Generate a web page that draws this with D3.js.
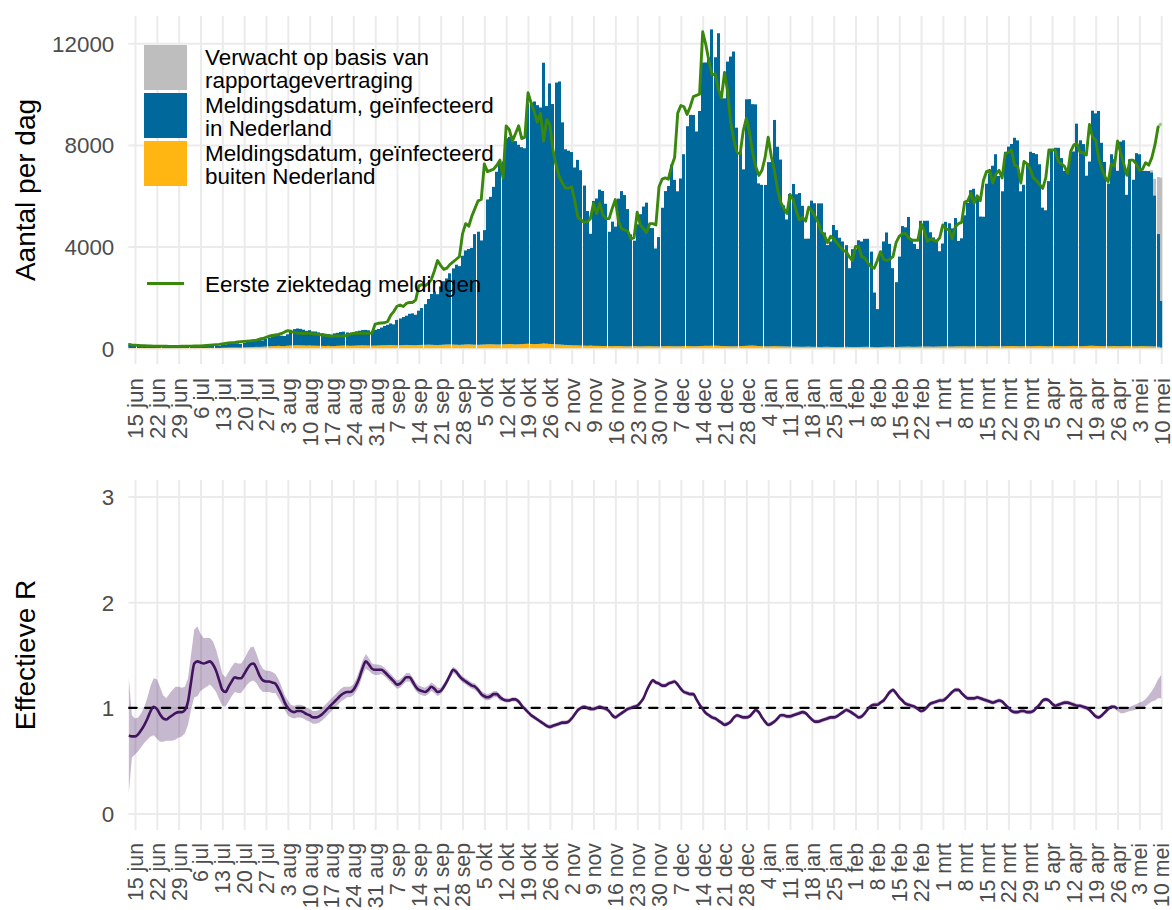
<!DOCTYPE html>
<html><head><meta charset="utf-8">
<script src="https://cdn.jsdelivr.net/npm/d3@7"></script>
<style>
body{margin:0;background:#fff}
svg{display:block}
text{font-family:"Liberation Sans",Arial,Helvetica,sans-serif}
</style>
</head><body>
<svg id="c" width="1172" height="910"></svg>
<script>
// ---------------- DATA ----------------
const monthsNL = ["jan","feb","mrt","apr","mei","jun","jul","aug","sep","okt","nov","dec"];
const firstDay = "2020-06-13";           // first day of all daily series
const firstTick = "2020-06-15", lastTick = "2021-05-10";  // weekly (Monday) ticks
const yTopTicks = [0, 4000, 8000, 12000];
const yBotTicks = [0, 1, 2, 3];

// Meldingsdatum, geinfecteerd in Nederland
const inNL = [
130,110,
120,140,120,110,120,100,90,
80,90,80,80,70,60,50,
50,60,60,70,60,60,50,
60,70,80,90,100,90,80,
110,130,150,160,170,170,150,
180,220,240,260,280,270,250,
300,340,380,400,420,410,400,
450,620,640,660,650,620,580,
600,560,560,530,500,480,460,
450,500,510,540,550,520,500,
530,560,580,600,610,600,580,
620,650,700,760,800,850,820,
1000,1050,1100,1150,1230,1250,1200,
1350,1450,1600,1800,2000,2100,2000,
2300,2500,2600,2800,3000,3150,3100,
3500,3700,3750,3800,4350,4450,4100,
4500,5700,5800,6200,6800,7100,7200,
8100,8150,8200,8000,7850,7750,7700,
9450,9500,9550,9400,9300,11050,9350,
10250,9450,10300,10350,8750,7700,7650,
7600,7000,7300,6900,6300,5300,4400,
5700,5800,6150,6100,5600,4500,4900,
4700,5800,6100,5950,5400,4400,4150,
4800,5200,5500,5650,4650,4650,3850,
4300,5450,6100,6300,7150,6550,6100,
6600,7550,8650,9100,9100,8450,9250,
11150,11150,11350,12450,11350,12300,9750,
9750,11200,11400,11600,8600,7650,6950,
9700,9700,9500,9500,6400,6350,6350,
7250,7250,8900,7850,7350,5550,5000,
6000,6400,6000,6050,5550,4250,4250,
5750,5650,5650,5650,4500,4000,4150,
4800,4600,4300,4150,4000,3100,3850,
3850,4200,4150,4250,4250,3750,2150,
1500,3750,4150,4500,4050,3100,2550,
3550,4750,4700,5100,4250,4050,3850,
4950,4950,4950,4500,4300,4200,3750,
4050,4900,4850,4650,5050,4150,4250,
5150,5650,6150,6200,5850,5100,5100,
6400,6800,7100,7550,6700,6100,7650,
7850,7950,8200,8100,6100,6350,7200,
7650,7600,7550,7150,5450,5350,6500,
7750,7800,7800,7400,6900,6900,7600,
7650,8750,8100,7950,6700,7250,9250,
9150,9250,8000,7250,6400,7550,7350,
6900,8050,8100,5950,7350,6550,7600,
7550,6900,6900,6900,6850,5950,4450,1830
];

// Meldingsdatum, geinfecteerd buiten Nederland
const buitenNL = [
10,8,6,8,10,7,9,6,5,7,8,6,5,4,6,7,5,6,8,7,6,5,7,9,8,10,12,11,9,10,
16,18,22,24,26,24,22,30,36,40,46,52,50,56,64,72,80,86,92,84,80,96,104,110,116,112,108,102,110,100,
98,94,90,86,92,82,84,94,98,102,100,94,98,104,108,112,110,104,100,102,108,112,116,120,124,118,112,120,126,128,
124,120,116,126,130,134,138,134,128,124,130,138,144,146,140,136,130,138,146,150,144,138,134,140,146,152,156,150,144,146,
150,158,164,156,148,154,160,168,174,166,158,164,172,184,178,168,158,152,146,136,128,122,118,112,110,104,100,96,102,94,
92,90,86,84,82,80,84,86,82,76,74,78,82,76,72,74,78,82,76,74,72,76,82,84,78,76,74,78,84,86,
82,76,78,84,88,94,92,96,100,94,86,82,78,76,74,78,84,88,94,100,104,96,86,78,74,72,76,82,78,74,
70,66,64,62,58,56,54,58,62,56,54,50,48,54,56,50,48,46,48,50,54,48,46,44,48,50,54,56,50,40,
38,46,50,54,56,50,48,54,56,58,62,56,54,58,62,64,66,62,58,64,66,70,72,66,64,70,72,74,78,72,
70,74,78,80,74,72,78,80,82,78,74,80,82,86,80,78,74,80,82,78,80,86,88,82,78,74,82,88,86,80,
78,82,88,90,86,80,82,88,94,96,90,86,82,80,78,82,86,80,78,82,86,80,78,74,80,82,78,74,72,66,54,28
];

// Verwacht op basis van rapportagevertraging (only the last days)
const verwachtDates = ["2021-05-07","2021-05-08","2021-05-09","2021-05-10"];
const verwachtVals  = [80, 650, 2230, 4850];

// Eerste ziektedag meldingen
const ziektedag = [
150,130,
120,110,100,100,90,90,80,
80,80,75,75,70,70,70,
70,75,75,80,80,85,85,
90,100,110,120,130,140,150,
170,190,210,220,230,250,260,
270,280,290,300,320,360,380,
430,470,500,520,540,580,640,
690,650,620,600,590,580,590,
590,570,560,540,520,510,490,
470,480,490,470,480,500,560,
580,590,590,600,590,590,600,
950,980,990,1000,1050,1300,1450,
1650,1700,1640,1760,1800,1800,1900,
2450,2500,2450,2550,2700,3050,3450,
3250,3100,3150,3300,3400,3500,3600,
4500,4900,4800,5200,5500,5800,5850,
7250,6950,7000,7050,7200,7400,6700,
8750,8600,8150,8450,8750,8250,8300,
10050,9650,9300,8900,9250,8150,9000,
8800,7800,7200,6750,6500,6300,6300,
6350,5800,5150,5050,4950,4980,5100,
5700,5300,5700,5250,5100,5100,5500,
5850,5000,4700,4650,4600,4300,4350,
5350,4850,4700,4550,4900,4900,4850,
6350,6650,6700,6650,7150,7500,9250,
9550,9500,9200,9500,9900,9950,10000,
12450,11950,11300,10750,10800,10200,9850,
10850,10100,8850,8200,7700,7650,8550,
9050,8500,7700,7150,6800,7000,7500,
8300,7550,7000,6250,5750,5500,5300,
6050,5850,5400,5050,5150,5000,5550,
5400,5200,4950,4600,4450,4150,4400,
4300,4150,4000,3850,3800,3600,3450,
4000,4000,3600,3550,3350,3200,3150,
3450,3800,3500,3450,3500,3600,4150,
4400,4500,4520,4350,4250,4250,4250,
4900,4650,4200,4300,4250,4200,4350,
4850,4700,4650,4300,4780,4900,4950,
5750,5800,6100,5700,6000,5800,6600,
6950,7000,6500,6850,7000,6700,7650,
7700,7800,7200,7150,6500,7350,7250,
7050,6700,6600,6450,6290,6700,7800,
7800,7800,7350,7250,7150,6880,7750,
8000,8050,7700,7700,7600,8800,8300,
8200,7450,7050,6750,6550,7250,7150,
8150,7700,7250,6800,7400,7400,7250,
7000,7050,7300,7200,7500,8000,8700,8850
];

// Effectieve R (median) and half width of the interval
const rEff = [
0.74,0.73,0.73,0.75,0.79,0.84,0.90,0.97,1.01,0.99,
0.94,0.90,0.89,0.91,0.93,0.95,0.96,0.96,0.98,1.06,
1.25,1.42,1.44,1.43,1.42,1.43,1.44,1.41,1.35,1.26,
1.17,1.15,1.20,1.25,1.29,1.28,1.28,1.32,1.37,1.41,
1.42,1.37,1.30,1.26,1.25,1.25,1.24,1.23,1.18,1.12,
1.05,1.00,0.97,0.96,0.97,0.97,0.96,0.94,0.93,0.91,
0.91,0.92,0.94,0.97,1.00,1.03,1.06,1.09,1.12,1.14,
1.15,1.15,1.17,1.22,1.29,1.38,1.44,1.41,1.37,1.36,
1.36,1.36,1.34,1.31,1.28,1.25,1.22,1.23,1.26,1.29,
1.29,1.25,1.20,1.17,1.16,1.15,1.17,1.20,1.18,1.15,
1.16,1.20,1.25,1.31,1.36,1.34,1.30,1.27,1.25,1.23,
1.21,1.20,1.17,1.13,1.11,1.10,1.11,1.13,1.13,1.10,
1.08,1.07,1.07,1.08,1.08,1.06,1.02,0.99,0.96,0.93,
0.91,0.89,0.87,0.85,0.83,0.82,0.83,0.84,0.85,0.86,
0.86,0.87,0.90,0.94,0.98,1.00,1.01,1.00,0.99,0.99,
1.00,1.01,1.00,0.99,0.97,0.93,0.91,0.93,0.95,0.97,
0.99,1.00,1.01,1.02,1.05,1.09,1.16,1.22,1.26,1.24,
1.23,1.21,1.21,1.23,1.24,1.25,1.22,1.18,1.15,1.14,
1.13,1.13,1.08,1.03,0.99,0.95,0.93,0.91,0.90,0.88,
0.86,0.84,0.85,0.87,0.91,0.93,0.92,0.91,0.91,0.92,
0.95,0.98,0.96,0.91,0.87,0.84,0.85,0.87,0.90,0.93,
0.93,0.92,0.92,0.93,0.94,0.95,0.96,0.95,0.92,0.89,
0.87,0.87,0.88,0.89,0.90,0.91,0.91,0.92,0.94,0.96,
0.98,0.97,0.95,0.93,0.91,0.92,0.95,0.99,1.02,1.03,
1.03,1.05,1.07,1.11,1.15,1.17,1.14,1.10,1.07,1.04,
1.03,1.02,1.01,0.99,0.97,0.98,1.01,1.04,1.05,1.06,
1.07,1.07,1.09,1.12,1.15,1.17,1.17,1.14,1.11,1.09,
1.09,1.09,1.10,1.09,1.08,1.07,1.06,1.05,1.06,1.07,
1.06,1.03,1.00,0.97,0.96,0.96,0.97,0.97,0.96,0.96,
0.97,1.00,1.03,1.07,1.08,1.07,1.04,1.02,1.03,1.04,
1.05,1.05,1.04,1.03,1.02,1.02,1.01,1.00,0.98,0.95,
0.92,0.91,0.93,0.96,0.99,1.01,1.01,0.99,0.97,0.97,
0.98,0.99,1.00,1.01,1.02,1.03,1.05,1.08,1.11,1.14,1.18,1.20
];
const rHalf = [
0.55,0.20,0.17,0.16,0.16,0.17,0.20,0.24,0.27,0.28,
0.26,0.22,0.20,0.22,0.24,0.25,0.24,0.23,0.22,0.22,
0.26,0.32,0.33,0.27,0.24,0.23,0.22,0.22,0.20,0.18,
0.15,0.14,0.14,0.14,0.14,0.14,0.14,0.14,0.15,0.16,
0.16,0.14,0.12,0.11,0.10,0.10,0.10,0.09,0.09,0.08,
0.07,0.07,0.06,0.06,0.06,0.06,0.06,0.06,0.06,0.06,
0.06,0.06,0.06,0.06,0.06,0.06,0.06,0.06,0.06,0.06,
0.05,0.05,0.05,0.06,0.07,0.07,0.07,0.06,0.05,0.05,
0.05,0.04,0.04,0.04,0.04,0.04,0.04,0.04,0.04,0.04,
0.04,0.04,0.04,0.04,0.04,0.04,0.04,0.04,0.04,0.04,
0.03,0.03,0.03,0.03,0.03,0.03,0.03,0.03,0.03,0.03,
0.03,0.03,0.03,0.03,0.03,0.03,0.03,0.03,0.03,0.03,
0.02,0.02,0.02,0.02,0.02,0.02,0.02,0.02,0.02,0.02,0.02,0.02,0.02,0.02,0.02,0.02,0.02,0.02,0.02,0.02,
0.02,0.02,0.02,0.02,0.02,0.02,0.02,0.02,0.02,0.02,0.02,0.02,0.02,0.02,0.02,0.02,0.02,0.02,0.02,0.02,
0.02,0.02,0.02,0.02,0.02,0.02,0.02,0.02,0.02,0.02,0.02,0.02,0.02,0.02,0.02,0.02,0.02,0.02,0.02,0.02,
0.02,0.02,0.02,0.02,0.02,0.02,0.02,0.02,0.02,0.02,0.02,0.02,0.02,0.02,0.02,0.02,0.02,0.02,0.02,0.02,
0.02,0.02,0.02,0.02,0.02,0.02,0.02,0.02,0.02,0.02,0.02,0.02,0.02,0.02,0.02,0.02,0.02,0.02,0.02,0.02,
0.02,0.02,0.02,0.02,0.02,0.02,0.02,0.02,0.02,0.02,0.02,0.02,0.02,0.02,0.02,0.02,0.02,0.02,0.02,0.02,
0.02,0.02,0.02,0.02,0.02,0.02,0.02,0.02,0.02,0.02,0.02,0.02,0.02,0.02,0.02,0.02,0.02,0.02,0.02,0.02,
0.02,0.02,0.02,0.02,0.02,0.02,0.02,0.02,0.02,0.02,0.02,0.02,0.02,0.02,0.02,0.02,0.02,0.02,0.02,0.02,
0.02,0.02,0.02,0.02,0.02,0.02,0.02,0.02,0.02,0.02,0.02,0.02,0.02,0.02,0.02,0.02,0.02,0.02,0.02,0.02,
0.02,0.02,0.02,0.02,0.02,0.02,0.02,0.02,0.02,0.02,0.02,0.02,0.02,0.02,0.02,0.02,0.02,
0.02,0.02,0.02,0.02,0.02,0.025,0.025,0.03,0.03,0.035,0.04,0.05,0.07,0.09,0.11
];
const rLineEnd = "2021-04-26";   // after this date only the interval is shown

const legendFill = [
  {key:"verwacht", lines:["Verwacht op basis van","rapportagevertraging"], color:"#BEBEBE"},
  {key:"nl",       lines:["Meldingsdatum, geïnfecteerd","in Nederland"], color:"#01689B"},
  {key:"buiten",   lines:["Meldingsdatum, geïnfecteerd","buiten Nederland"], color:"#FFB612"}
];
const lineLabel = "Eerste ziektedag meldingen";
const yTitleTop = "Aantal per dag", yTitleBot = "Effectieve R";

// ---------------- CHART ----------------
const DAY = 864e5;
const t0 = Date.parse(firstDay + "T00:00:00Z");
const dateOf = i => new Date(t0 + i * DAY);
const vMap = new Map(verwachtDates.map((d, i) => [Date.parse(d + "T00:00:00Z"), verwachtVals[i]]));
const rows = inNL.map((v, i) => ({
  date: dateOf(i), nl: v, buiten: buitenNL[i] || 0,
  verwacht: vMap.get(+dateOf(i)) || 0, ziek: ziektedag[i], r: rEff[i], h: rHalf[i]
}));

const svg = d3.select("#c");
const X0 = 128.3, X1 = 1162.2;
const pTop = {y0: 16, y1: 364}, pBot = {y0: 480, y1: 830};
const x = d3.scaleUtc()
  .domain([new Date(Date.UTC(2020,5,12,20,24)), new Date(Date.UTC(2021,4,10,7,40))])
  .range([X0, X1]);
const yTop = d3.scaleLinear().domain([-622, 13072]).range([pTop.y1, pTop.y0]);
const yBot = d3.scaleLinear().domain([-0.155, 3.155]).range([pBot.y1, pBot.y0]);
const mondays = d3.utcMonday.range(new Date(firstTick + "T00:00:00Z"), new Date(Date.parse(lastTick + "T00:00:00Z") + DAY));
const fmt = d => d.getUTCDate() + " " + monthsNL[d.getUTCMonth()];

const defs = svg.append("defs");
defs.append("clipPath").attr("id","clipTop").append("rect")
  .attr("x", X0).attr("y", pTop.y0).attr("width", X1 - X0).attr("height", pTop.y1 - pTop.y0);
defs.append("clipPath").attr("id","clipBot").append("rect")
  .attr("x", X0).attr("y", pBot.y0).attr("width", X1 - X0).attr("height", pBot.y1 - pBot.y0);

const GRID = "#EBEBEB", TXT = "#4D4D4D";
const FONT = '"Liberation Sans",Arial,sans-serif';

function grids(panel, y, ticks) {
  const gx = svg.append("g").attr("transform", `translate(0,${panel.y1})`)
    .call(d3.axisBottom(x).tickValues(mondays).tickSize(-(panel.y1 - panel.y0)).tickFormat(""));
  gx.select(".domain").remove();
  gx.selectAll("line").attr("stroke", GRID).attr("stroke-width", 2);
  const gy = svg.append("g").attr("transform", `translate(${X0},0)`)
    .call(d3.axisLeft(y).tickValues(ticks).tickSize(-(X1 - X0)).tickFormat(""));
  gy.select(".domain").remove();
  gy.selectAll("line").attr("stroke", GRID).attr("stroke-width", 2);
}
function axes(panel, y, ticks, title, lblSize, lblPad) {
  const ax = svg.append("g").attr("transform", `translate(0,${panel.y1})`)
    .call(d3.axisBottom(x).tickValues(mondays).tickSize(0).tickFormat(fmt));
  ax.select(".domain").remove();
  ax.selectAll("text")
    .attr("transform", "rotate(-90)").attr("x", -lblPad).attr("y", 0).attr("dy", "0.35em")
    .attr("text-anchor", "end").attr("fill", TXT).attr("font-size", lblSize)
    .attr("font-family", FONT);
  const ay = svg.append("g").attr("transform", `translate(${X0},0)`)
    .call(d3.axisLeft(y).tickValues(ticks).tickSize(0).tickPadding(14).tickFormat(d3.format("d")));
  ay.select(".domain").remove();
  ay.selectAll("text").attr("fill", TXT).attr("font-size", 22.4)
    .attr("font-family", FONT).attr("dy", "0.36em");
  svg.append("text").attr("transform", `translate(34.5,${(panel.y0 + panel.y1) / 2}) rotate(-90)`)
    .attr("text-anchor", "middle").attr("font-size", 28).attr("fill", "#000").text(title);
}

// ---- top panel ----
grids(pTop, yTop, yTopTicks);
const stack = d3.stack().keys(["buiten", "nl", "verwacht"])(rows);
const colors = {verwacht:"#BEBEBE", nl:"#01689B", buiten:"#FFB612"};
const step = x(dateOf(1)) - x(dateOf(0));
const barL = d => Math.round(x(d.data.date) - step / 2);
const barR = d => Math.round(x(d.data.date) - step / 2 + step - 0.12);
const gBars = svg.append("g").attr("clip-path", "url(#clipTop)");
stack.forEach(layer => {
  gBars.append("g").attr("fill", colors[layer.key])
    .selectAll("rect").data(layer.filter(d => d[1] > d[0])).join("rect")
    .attr("x", barL)
    .attr("width", d => barR(d) - barL(d))
    .attr("y", d => yTop(d[1]))
    .attr("height", d => yTop(d[0]) - yTop(d[1]));
});
const gLine = svg.append("g").attr("clip-path", "url(#clipTop)");
const zLine = d3.line().x(d => x(d.date)).y(d => yTop(d.ziek));
gLine.append("path").datum(rows.slice(0, rows.length - 1))
  .attr("d", zLine).attr("fill", "none").attr("stroke", "#39870C").attr("stroke-width", 2.9)
  .attr("stroke-linejoin", "round").attr("stroke-linecap", "round");
gLine.append("path").datum(rows.slice(rows.length - 2))
  .attr("d", zLine).attr("fill", "none").attr("stroke", "#39870C").attr("stroke-opacity", 0.45)
  .attr("stroke-width", 2.9);
axes(pTop, yTop, yTopTicks, yTitleTop, 22.4, 14);

// legend
const lg = svg.append("g");
const keyY = [45, 93, 141];
legendFill.forEach((it, i) => {
  lg.append("rect").attr("x", 144).attr("y", keyY[i]).attr("width", 43).attr("height", 45).attr("fill", it.color);
  it.lines.forEach((t, j) => {
    lg.append("text").attr("x", 205).attr("y", keyY[i] + 19.5 + j * 23.5)
      .attr("font-size", 22.4).attr("fill", "#000").text(t);
  });
});
lg.append("line").attr("x1", 147).attr("x2", 184).attr("y1", 283.5).attr("y2", 283.5)
  .attr("stroke", "#39870C").attr("stroke-width", 3);
lg.append("text").attr("x", 205).attr("y", 292).attr("font-size", 22.4).attr("fill", "#000").text(lineLabel);

// ---- bottom panel ----
grids(pBot, yBot, yBotTicks);
const gR = svg.append("g").attr("clip-path", "url(#clipBot)");
gR.append("path").datum(rows)
  .attr("d", d3.area().x(d => x(d.date)).y0(d => yBot(d.r - d.h)).y1(d => yBot(d.r + d.h)))
  .attr("fill", "#42145F").attr("fill-opacity", 0.3);
gR.append("line").attr("x1", X0).attr("x2", X1).attr("y1", yBot(1)).attr("y2", yBot(1))
  .attr("stroke", "#000").attr("stroke-width", 2.1).attr("stroke-dasharray", "8.4 8.4").attr("stroke-linecap", "round");
const endT = Date.parse(rLineEnd + "T00:00:00Z");
gR.append("path").datum(rows.filter(d => +d.date <= endT))
  .attr("d", d3.line().x(d => x(d.date)).y(d => yBot(d.r)).curve(d3.curveMonotoneX))
  .attr("fill", "none").attr("stroke", "#42145F").attr("stroke-width", 2.6).attr("stroke-linejoin", "round");
axes(pBot, yBot, yBotTicks, yTitleBot, 21.3, 13);
</script>
</body></html>
